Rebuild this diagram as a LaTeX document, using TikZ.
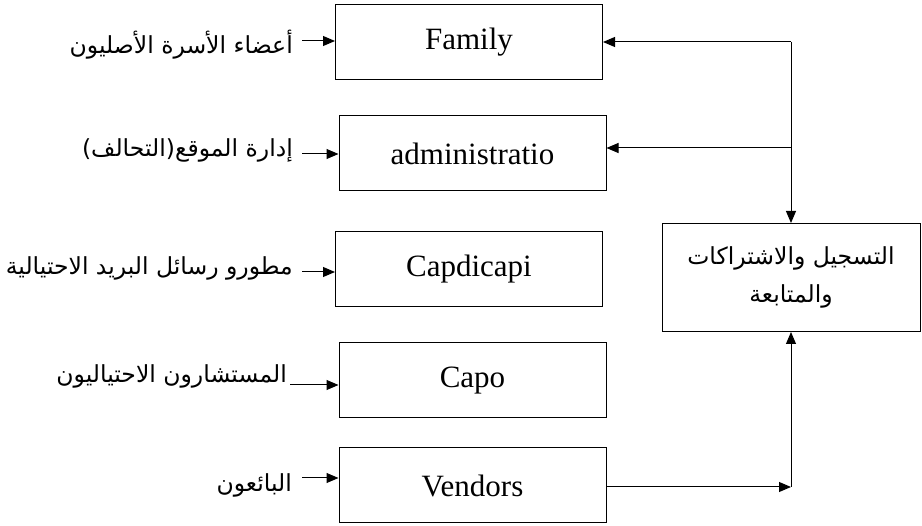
\documentclass[tikz,border=0pt]{standalone}
\usepackage{fontspec}
\setmainfont{Liberation Serif}
\newfontfamily\arabicfont[Script=Arabic]{DejaVu Sans}
\TeXXeTstate=1
\usetikzlibrary{arrows.meta}
\begin{document}
\begin{tikzpicture}[x=1pt,y=-1pt,
  box/.style={draw, line width=1pt, minimum width=267pt, minimum height=75pt, inner sep=0pt, font=\fontsize{31}{36}\selectfont},
  lab/.style={anchor=east, inner sep=0pt, font=\arabicfont\fontsize{23.5}{28}\selectfont},
  arr/.style={line width=1pt, -{Triangle[length=12pt,width=10pt]}}]
\useasboundingbox (0,0) rectangle (922,526);
\node[box] (fam) at (469,42) {Family};
\node[box] (adm) at (472.5,153.5) {administratio};
\node[box] (cdc) at (469,269) {Capdicapi};
\node[box] (capo) at (472.5,380.5) {Capo};
\node[box] (ven) at (472.5,485.5) {Vendors};
\node[draw, line width=1pt, minimum width=258pt, minimum height=108pt, inner sep=0pt, align=center,
      font=\arabicfont\fontsize{23.5}{38}\selectfont] (reg) at (791,277.5)
  {\beginR التسجيل والاشتراكات\endR\\\beginR والمتابعة\endR};
\node[lab] (l1) at (293,45) {\beginR أعضاء الأسرة الأصليون\endR};
\node[lab] (l2) at (293,150) {\beginR إدارة الموقع(التحالف)\endR};
\node[lab] (l3) at (293,268) {\beginR مطورو رسائل البريد الاحتيالية\endR};
\node[lab] (l4) at (287,376) {\beginR المستشارون الاحتياليون\endR};
\node[lab] (l5) at (292,485) {\beginR البائعون\endR};
\draw[arr] ([xshift=9pt,yshift=4pt]l1.east) -- ([yshift=4pt]l1.east -| fam.west);
\draw[arr] ([xshift=9pt,yshift=-4pt]l2.east) -- ([yshift=-4pt]l2.east -| adm.west);
\draw[arr] ([xshift=9pt,yshift=-4pt]l3.east) -- ([yshift=-4pt]l3.east -| cdc.west);
\draw[arr] ([xshift=3pt,yshift=-9pt]l4.east) -- ([yshift=-9pt]l4.east -| capo.west);
\draw[arr] ([xshift=10pt,yshift=7pt]l5.east) -- ([yshift=7pt]l5.east -| ven.west);
\coordinate (j1) at (791,42);
\coordinate (j2) at (791,148);
\coordinate (j3) at (791,487);
\draw[arr] (j1) -- (fam.east);
\draw[arr] (j2) -- (adm.east |- j2);
\draw[arr] (j1) -- (reg.north);
\draw[arr] (ven.east |- j3) -- (j3);
\draw[arr] (j3) -- (reg.south);
\end{tikzpicture}
\end{document}
